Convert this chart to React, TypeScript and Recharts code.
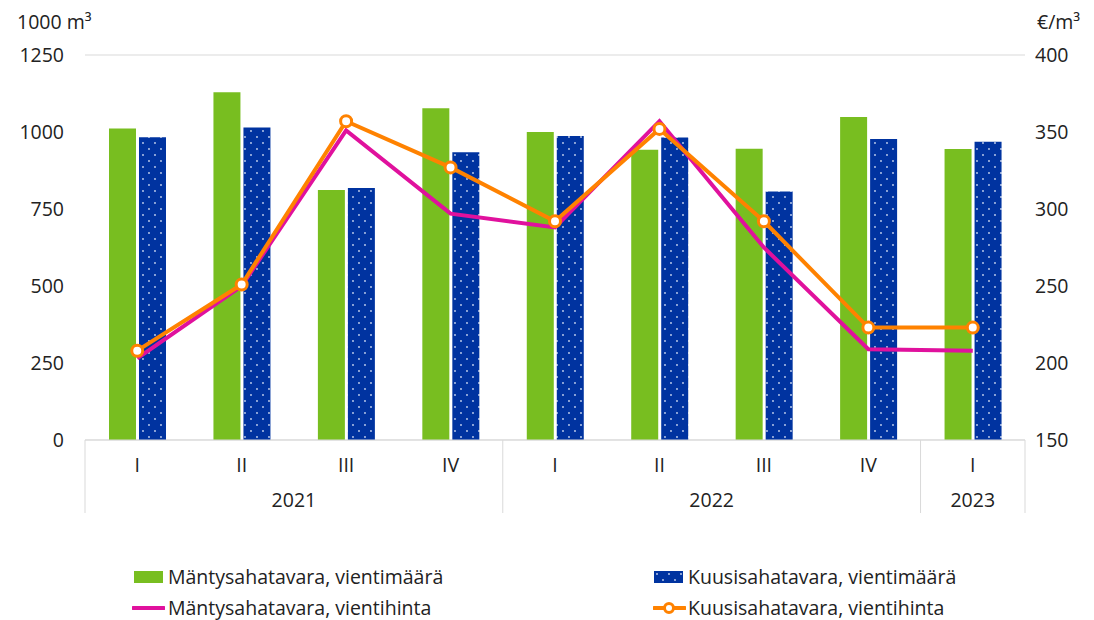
import React from "react";
import { Bar, CartesianGrid, ComposedChart, Line, XAxis, YAxis } from "recharts";

// quarters and years for the two-level category axis
const quarters = ["I", "II", "III", "IV", "I", "II", "III", "IV", "I"];
const years = ["2021", "2021", "2021", "2021", "2022", "2022", "2022", "2022", "2023"];

// 1000 m3
const mantyMaara = [1011, 1129, 812, 1077, 1000, 942, 946, 1049, 945];
const kuusiMaara = [983, 1015, 818, 934, 987, 982, 807, 977, 968];

// €/m3
const mantyHinta = [203, 250, 351, 297, 288, 357, 275, 209, 208];
const kuusiHinta = [208, 251, 357, 327, 292, 352, 292, 223, 223];

const leftTicks = [0, 250, 500, 750, 1000, 1250];
const rightTicks = [150, 200, 250, 300, 350, 400];

const data = quarters.map((q, i) => ({
    key: i,
    quarter: q,
    year: years[i],
    manty: mantyMaara[i],
    kuusi: kuusiMaara[i],
    mantyHinta: mantyHinta[i],
    kuusiHinta: kuusiHinta[i],
}));

const GREEN = "#78be20";
const BLUE = "#0033a0";
const PINK = "#e0119d";
const ORANGE = "#ff8200";
const GRID = "#d9d9d9";
const TEXT = "#222";
const FONT = "'Open Sans', 'Noto Sans', sans-serif";
const FS = 19.5;

const W = 1086;
const H = 612;
const LEFT_W = 77;
const RIGHT_W = 69;
const PLOT_W = W - LEFT_W - RIGHT_W;
const BW = PLOT_W / quarters.length;

const CategoryTick = (props: any) => {
    const { x, y, payload } = props;
    const i = props.index ?? payload.index;
    const yr = years[i];
    const first = i === 0 || years[i - 1] !== yr;
    const last = i === years.length - 1;
    const count = years.filter((v) => v === yr).length;
    return (
        <g>
            <text x={x} y={y + 32} textAnchor="middle" fill={TEXT} fontSize={FS} fontFamily={FONT}>
                {payload.value}
            </text>
            {first && (
                <>
                    <line x1={x - BW / 2} x2={x - BW / 2} y1={y} y2={y + 73} stroke={GRID} strokeWidth={1} />
                    <text
                        x={x - BW / 2 + (count * BW) / 2}
                        y={y + 67}
                        textAnchor="middle"
                        fill={TEXT}
                        fontSize={FS}
                        fontFamily={FONT}
                    >
                        {yr}
                    </text>
                </>
            )}
            {last && <line x1={x + BW / 2} x2={x + BW / 2} y1={y} y2={y + 73} stroke={GRID} strokeWidth={1} />}
        </g>
    );
};

const legendText: React.CSSProperties = { fontFamily: FONT, fontSize: FS, color: TEXT, whiteSpace: "nowrap" };

const Legend2 = () => (
    <div style={{ position: "absolute", left: 0, top: 0, width: W, height: H, pointerEvents: "none" }}>
        <div style={{ position: "absolute", left: 126, top: 555, display: "flex", alignItems: "center" }}>
            <span style={{ display: "inline-block", width: 29, height: 12, background: GREEN, marginRight: 5 }} />
            <span style={legendText}>Mäntysahatavara, vientimäärä</span>
        </div>
        <div style={{ position: "absolute", left: 646, top: 555, display: "flex", alignItems: "center" }}>
            <svg width={29} height={12} style={{ marginRight: 5 }}>
                <rect width={29} height={12} fill="url(#dots)" />
            </svg>
            <span style={legendText}>Kuusisahatavara, vientimäärä</span>
        </div>
        <div style={{ position: "absolute", left: 124, top: 586, display: "flex", alignItems: "center" }}>
            <svg width={33} height={12} style={{ marginRight: 3 }}>
                <line x1={1} x2={32} y1={6} y2={6} stroke={PINK} strokeWidth={4} strokeLinecap="round" />
            </svg>
            <span style={legendText}>Mäntysahatavara, vientihinta</span>
        </div>
        <div style={{ position: "absolute", left: 645, top: 586, display: "flex", alignItems: "center" }}>
            <svg width={33} height={14} style={{ marginRight: 2 }}>
                <line x1={1} x2={32} y1={7} y2={7} stroke={ORANGE} strokeWidth={4} strokeLinecap="round" />
                <circle cx={16} cy={7} r={4.5} fill="#fff" stroke={ORANGE} strokeWidth={3} />
            </svg>
            <span style={legendText}>Kuusisahatavara, vientihinta</span>
        </div>
    </div>
);

export default function App() {
    return (
        <div style={{ position: "relative", width: W, height: H }}>
            <div style={{ position: "absolute", left: 9, top: 0, ...legendText }}>
                1000 m³
            </div>
            <div style={{ position: "absolute", left: 1029, top: 0, ...legendText }}>
                €/m³
            </div>
            <ComposedChart
                width={W}
                height={H}
                data={data}
                margin={{ top: 47, right: 0, left: 0, bottom: 100 }}
                barSize={27}
                barGap={3}
            >
                <defs>
                    <pattern id="dots" width={12} height={12} patternUnits="userSpaceOnUse">
                        <rect width={12} height={12} fill={BLUE} />
                        <circle cx={3} cy={3} r={0.9} fill="#c8d4f0" />
                        <circle cx={9} cy={9} r={0.9} fill="#c8d4f0" />
                    </pattern>
                </defs>
                <CartesianGrid vertical={false} stroke={GRID} />
                <XAxis
                    dataKey="quarter"
                    xAxisId={0}
                    height={80}
                    interval={0}
                    tickLine={false}
                    tickSize={0}
                    tickMargin={0}
                    axisLine={{ stroke: GRID }}
                    tick={<CategoryTick />}
                    allowDuplicatedCategory
                />
                <YAxis
                    yAxisId="left"
                    width={LEFT_W}
                    domain={[0, 1250]}
                    ticks={leftTicks}
                    axisLine={false}
                    tickLine={false}
                    tickSize={0}
                    tickMargin={21}
                    tick={{ fill: TEXT, fontSize: FS, fontFamily: FONT }}
                />
                <YAxis
                    yAxisId="right"
                    orientation="right"
                    width={RIGHT_W}
                    domain={[150, 400]}
                    ticks={rightTicks}
                    axisLine={false}
                    tickLine={false}
                    tickSize={0}
                    tickMargin={10}
                    tick={{ fill: TEXT, fontSize: FS, fontFamily: FONT, textAnchor: "start" }}
                />
                <Bar yAxisId="left" dataKey="manty" fill={GREEN} isAnimationActive={false} />
                <Bar yAxisId="left" dataKey="kuusi" fill="url(#dots)" isAnimationActive={false} />
                <Line
                    yAxisId="right"
                    type="linear"
                    dataKey="mantyHinta"
                    stroke={PINK}
                    strokeWidth={4}
                    dot={false}
                    isAnimationActive={false}
                />
                <Line
                    yAxisId="right"
                    type="linear"
                    dataKey="kuusiHinta"
                    stroke={ORANGE}
                    strokeWidth={4}
                    dot={{ r: 5.5, fill: "#fff", stroke: ORANGE, strokeWidth: 3 }}
                    isAnimationActive={false}
                />
            </ComposedChart>
            <Legend2 />
        </div>
    );
}
